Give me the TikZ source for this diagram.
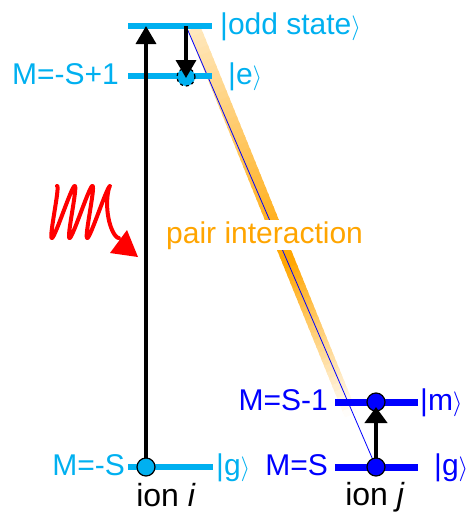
\documentclass[tikz,border=0pt]{standalone}
\usepackage{fontspec}
\setmainfont{Liberation Sans}
\usetikzlibrary{arrows.meta,calc}
\definecolor{lb}{RGB}{0,176,240}
\definecolor{db}{RGB}{0,0,255}
\definecolor{orng}{RGB}{255,165,0}
\begin{document}
\begin{tikzpicture}[x=1pt,y=-1pt,
  lvlA/.style={line width=6pt, draw=lb},
  lvlB/.style={line width=7pt, draw=db},
  lbl/.style={font=\fontsize{30}{32}\selectfont, inner sep=0pt},
  ionlbl/.style={font=\fontsize{32}{34}\selectfont, inner sep=0pt},
  arr/.style={line width=3.5pt, -{Triangle[width=20pt,length=18pt]}},
  dotA/.style={circle, fill=lb, draw=black, line width=1.2pt, minimum size=18pt, inner sep=0pt},
  dotE/.style={circle, fill=lb, draw=black, dashed, line width=1.2pt, minimum size=18pt, inner sep=0pt},
  dotB/.style={circle, fill=db, draw=black, line width=1.2pt, minimum size=18pt, inner sep=0pt}]
\useasboundingbox (0,0) rectangle (470,515);
% positions
\coordinate (oddL) at (128,26); \coordinate (oddR) at (212,26);
\coordinate (eL) at (128,76); \coordinate (eR) at (212,76);
\coordinate (giL) at (128,467); \coordinate (giR) at (213,467);
\coordinate (mL) at (335,402); \coordinate (mR) at (418,402);
\coordinate (gjL) at (335,467); \coordinate (gjR) at (418,467);
\coordinate (gipos) at (146,467); \coordinate (oddi) at (146,26);
\coordinate (oddtop) at (186,26); \coordinate (epos) at (186,77);
\coordinate (mpos) at (376,402); \coordinate (gjpos) at (376,467);
\coordinate (bandT) at (194,28); \coordinate (bandB) at (351,415);
% pair interaction band
\foreach \i in {0,...,59} {
  \pgfmathsetmacro\ta{\i/60}
  \pgfmathsetmacro\tb{min(1,(\i+1.4)/60)}
  \pgfmathsetmacro\tm{(\i+0.5)/60}
  \pgfmathsetmacro\cc{\tm<0.6 ? 25+75*\tm/0.6 : 100*(1-\tm)/0.4}
  \draw[line width=13pt, line cap=butt, draw=orng!\cc] ($(bandT)!\ta!(bandB)$) -- ($(bandT)!\tb!(bandB)$);
}
\draw[db, line width=0.8pt] (oddtop) -- (gjpos);
\node[lbl, text=orng, fill=white, inner sep=1pt, anchor=base west] (pair) at (165,243) {pair interaction};
% levels ion i
\draw[lvlA] (oddL) -- (oddR);
\draw[lvlA] (eL) -- (eR);
\draw[lvlA] (giL) -- (giR);
% levels ion j
\draw[lvlB] (mL) -- (mR);
\draw[lvlB] (gjL) -- (gjR);
% ion i
\draw[arr] (gipos) -- (oddi);
\node[dotA] (gi) at (gipos) {};
\node[dotE] (ei) at (epos) {};
\draw[arr] (oddtop) -- ($(ei.center)+(0,1)$);
% ion j
\node[dotB] (mj) at (mpos) {};
\draw[arr, line width=4pt, -{Triangle[width=22pt,length=16pt]}] (gjpos) -- ($(mj.center)+(0,5)$);
\node[dotB] (gj) at (gjpos) {};
% photon
\draw[red, line width=4pt, line join=round, line cap=round, smooth, samples=300, domain=0:1]
  plot ({50+62*\x+(7-14*max(0,7*\x-6))*cos(360*3.5*\x)}, {212-26*cos(360*3.5*\x)});
\fill[red] (110,253) -- (138,257) -- (127,230) -- cycle;
% labels
\node[lbl, text=lb, anchor=base west] (oddlbl) at (220,34) {|odd state$\rangle$};
\node[lbl, text=lb, anchor=base east] (elblL) at (119,84) {M=-S+1};
\node[lbl, text=lb, anchor=base west] (elblR) at (228,84) {|e$\rangle$};
\node[lbl, text=lb, anchor=base east] (gilblL) at (125,475) {M=-S};
\node[lbl, text=lb, anchor=base west] (gilblR) at (216,475) {|g$\rangle$};
\node[lbl, text=db, anchor=base east] (mlblL) at (328,410) {M=S-1};
\node[lbl, text=db, anchor=base west] (mlblR) at (420,410) {|m$\rangle$};
\node[lbl, text=db, anchor=base east] (gjlblL) at (328,475) {M=S};
\node[lbl, text=db, anchor=base west] (gjlblR) at (434,475) {|g$\rangle$};
\node[ionlbl, anchor=base] (ioni) at (166,506) {ion \textit{i}};
\node[ionlbl, anchor=base] (ionj) at (375,505) {ion \textit{j}};
\end{tikzpicture}
\end{document}
